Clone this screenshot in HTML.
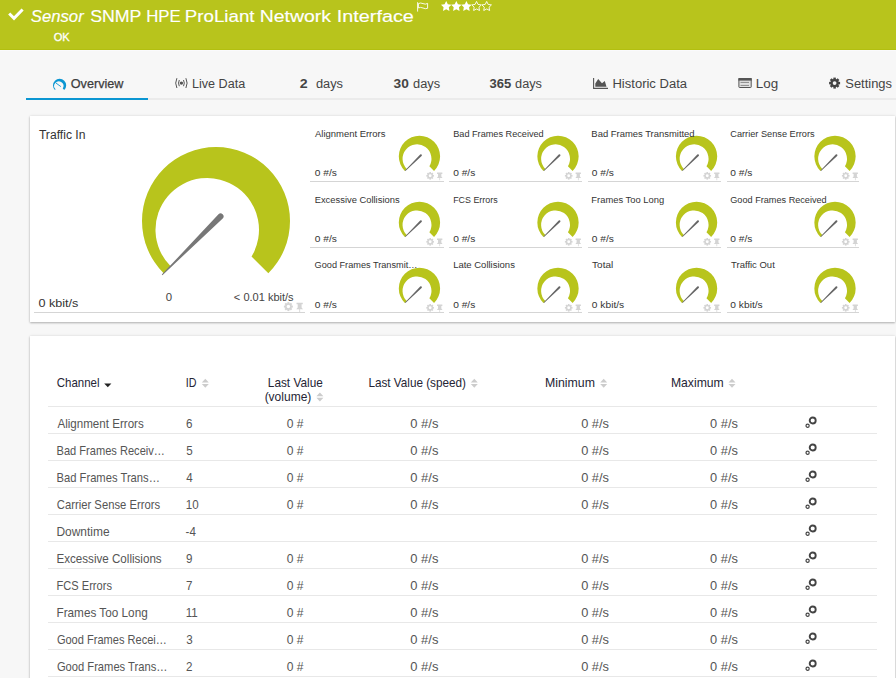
<!DOCTYPE html>
<html><head><meta charset="utf-8"><title>Sensor SNMP HPE ProLiant Network Interface</title>
<style>
html,body{margin:0;padding:0;}
body{width:896px;height:678px;overflow:hidden;background:#f7f7f7;position:relative;font-family:"Liberation Sans",sans-serif;}
.a{position:absolute;display:block;}
.card{background:#fff;box-shadow:0 1px 2px rgba(0,0,0,0.26),0 0 3px rgba(0,0,0,0.1);}
</style></head><body>
<div class="a " style="left:0px;top:0px;width:896px;height:49px;background:#b8c41c"></div>
<div class="a " style="left:0px;top:49px;width:896px;height:1px;background:#b2bf10"></div>
<div class="a " style="left:0px;top:50px;width:896px;height:1px;background:#fafafc"></div>
<div class="a " style="left:26px;top:98px;width:870px;height:2px;background:#ebebeb"></div>
<div class="a " style="left:26px;top:98px;width:122px;height:2px;background:#0b96d2"></div>
<div class="a card" style="left:30px;top:116px;width:865px;height:206px"></div>
<div class="a " style="left:34px;top:312px;width:271px;height:1px;background:#d5d5d5"></div>
<div class="a " style="left:310px;top:181px;width:133.6px;height:1px;background:#d5d5d5"></div>
<div class="a " style="left:449px;top:181px;width:132.7px;height:1px;background:#d5d5d5"></div>
<div class="a " style="left:588px;top:181px;width:132.7px;height:1px;background:#d5d5d5"></div>
<div class="a " style="left:726.5px;top:181px;width:132.5px;height:1px;background:#d5d5d5"></div>
<div class="a " style="left:310px;top:247px;width:133.6px;height:1px;background:#d5d5d5"></div>
<div class="a " style="left:449px;top:247px;width:132.7px;height:1px;background:#d5d5d5"></div>
<div class="a " style="left:588px;top:247px;width:132.7px;height:1px;background:#d5d5d5"></div>
<div class="a " style="left:726.5px;top:247px;width:132.5px;height:1px;background:#d5d5d5"></div>
<div class="a " style="left:310px;top:312px;width:133.6px;height:1px;background:#d5d5d5"></div>
<div class="a " style="left:449px;top:312px;width:132.7px;height:1px;background:#d5d5d5"></div>
<div class="a " style="left:588px;top:312px;width:132.7px;height:1px;background:#d5d5d5"></div>
<div class="a " style="left:726.5px;top:312px;width:132.5px;height:1px;background:#d5d5d5"></div>
<div class="a card" style="left:30px;top:336px;width:865px;height:360px"></div>
<div class="a " style="left:48px;top:406px;width:829px;height:1px;background:#e8e8e8"></div>
<div class="a " style="left:48px;top:433px;width:829px;height:1px;background:#e8e8e8"></div>
<div class="a " style="left:48px;top:460px;width:829px;height:1px;background:#e8e8e8"></div>
<div class="a " style="left:48px;top:487px;width:829px;height:1px;background:#e8e8e8"></div>
<div class="a " style="left:48px;top:514px;width:829px;height:1px;background:#e8e8e8"></div>
<div class="a " style="left:48px;top:541px;width:829px;height:1px;background:#e8e8e8"></div>
<div class="a " style="left:48px;top:568px;width:829px;height:1px;background:#e8e8e8"></div>
<div class="a " style="left:48px;top:595px;width:829px;height:1px;background:#e8e8e8"></div>
<div class="a " style="left:48px;top:622px;width:829px;height:1px;background:#e8e8e8"></div>
<div class="a " style="left:48px;top:649px;width:829px;height:1px;background:#e8e8e8"></div>
<div class="a " style="left:48px;top:676px;width:829px;height:1px;background:#e8e8e8"></div>
<svg class="a" style="left:0;top:0" width="896" height="678" viewBox="0 0 896 678" font-family="Liberation Sans, sans-serif">
<path d="M9.2,13.5 L14,18.3 L22.6,9.5" stroke="#fff" stroke-width="3" fill="none"/>
<path d="M417.6,2.2 V11.6" stroke="#fff" stroke-width="0.9"/><path d="M418.4,3.6 Q420.5,2.4 423,3.6 T427.6,3.4 V8.3 Q425.5,9.2 423,8 T418.4,7.9 Z" stroke="#fff" stroke-width="0.9" fill="none"/>
<polygon points="446.20,0.95 447.82,4.23 451.43,4.75 448.82,7.30 449.43,10.90 446.20,9.20 442.97,10.90 443.58,7.30 440.97,4.75 444.58,4.23" fill="#fff"/><polygon points="456.32,0.95 457.94,4.23 461.55,4.75 458.94,7.30 459.55,10.90 456.32,9.20 453.09,10.90 453.70,7.30 451.09,4.75 454.70,4.23" fill="#fff"/><polygon points="466.44,0.95 468.06,4.23 471.67,4.75 469.06,7.30 469.67,10.90 466.44,9.20 463.21,10.90 463.82,7.30 461.21,4.75 464.82,4.23" fill="#fff"/><polygon points="476.56,1.45 478.03,4.43 481.32,4.90 478.94,7.22 479.50,10.50 476.56,8.95 473.62,10.50 474.18,7.22 471.80,4.90 475.09,4.43" fill="none" stroke="#fff" stroke-width="0.9"/><polygon points="486.68,1.45 488.15,4.43 491.44,4.90 489.06,7.22 489.62,10.50 486.68,8.95 483.74,10.50 484.30,7.22 481.92,4.90 485.21,4.43" fill="none" stroke="#fff" stroke-width="0.9"/>
<g transform="translate(59.6,85.3) scale(0.0892)"><path d="M-52.33,52.33 A74,74 0 1 1 52.33,52.33 L35.53,35.53 A51.75,51.75 0 1 0 -45.34,45.34 Z" fill="#0b96d2"/></g><path d="M56.2,83.2 L60.6,86.4" stroke="#0b96d2" stroke-width="0.9" stroke-linecap="round"/>
<circle cx="181.4" cy="83.1" r="1.7" fill="#555"/><path d="M179.3,80 Q177.7,83.1 179.3,86.2 M183.5,80 Q185.1,83.1 183.5,86.2 M176.9,78.2 Q174.5,83.1 176.9,88 M185.9,78.2 Q188.3,83.1 185.9,88" stroke="#555" stroke-width="1" fill="none"/>
<path d="M593.6,78 V88.4 H608" stroke="#555" stroke-width="1.1" fill="none"/><path d="M595.3,86.7 L595.3,83.4 L598.2,79.1 L602,83.2 L604.8,81.1 L606.5,86.7 Z" fill="#555"/>
<rect x="738.9" y="78.5" width="12.3" height="9" rx="0.6" fill="#e2e2e2" stroke="#555" stroke-width="1"/><rect x="738.4" y="78" width="13.3" height="2.6" fill="#555"/><path d="M740.5,82.4 H749 M740.5,85.4 H749" stroke="#8a8a8a" stroke-width="1"/>
<g transform="translate(834.6,83.1)"><g fill="#444"><circle r="4.1"/><rect x="-1.25" y="-5.5" width="2.5" height="11" transform="rotate(0)"/><rect x="-1.25" y="-5.5" width="2.5" height="11" transform="rotate(45)"/><rect x="-1.25" y="-5.5" width="2.5" height="11" transform="rotate(90)"/><rect x="-1.25" y="-5.5" width="2.5" height="11" transform="rotate(135)"/></g><circle r="1.9" fill="#f7f7f7"/></g>
<g transform="translate(216,221)"><path d="M-52.33,52.33 A74,74 0 1 1 52.33,52.33 L35.53,35.53 A51.75,51.75 0 1 0 -45.34,45.34 Z" fill="#b8c41c"/><path d="M6.72,-2.48 L-53.6,54.2 L-54.2,53.6 L2.48,-6.72 A3,3 0 0 1 6.72,-2.48 Z" fill="#777"/></g>
<g transform="translate(283.90,302.10) scale(1.18)"><g transform="translate(3.8,3.8)" fill="#d4d4d4"><circle r="2.8"/><rect x="-0.85" y="-3.8" width="1.7" height="7.6" transform="rotate(0)"/><rect x="-0.85" y="-3.8" width="1.7" height="7.6" transform="rotate(45)"/><rect x="-0.85" y="-3.8" width="1.7" height="7.6" transform="rotate(90)"/><rect x="-0.85" y="-3.8" width="1.7" height="7.6" transform="rotate(135)"/><circle r="1.45" fill="#fff"/></g><path d="M10.7,0.6 H16.0 V1.9 H15.0 V4.6 L16.2,6.1 H10.5 L11.7,4.6 V1.9 H10.7 Z M13.05,6.1 H13.75 V8.3 H13.05 Z" fill="#d4d4d4"/></g>
<g transform="translate(419.45,156.35) scale(0.2791)"><path d="M-52.33,52.33 A74,74 0 1 1 52.33,52.33 L35.53,35.53 A51.75,51.75 0 1 0 -45.34,45.34 Z" fill="#b8c41c"/><path d="M-51.84,50.65 L2.67,-6.76 A3.6,3.6 0 0 1 7.73,-1.64 L-50.16,52.35 Z" fill="#666"/></g>
<g transform="translate(426.35,172.00) scale(1.0)"><g transform="translate(3.8,3.8)" fill="#d4d4d4"><circle r="2.8"/><rect x="-0.85" y="-3.8" width="1.7" height="7.6" transform="rotate(0)"/><rect x="-0.85" y="-3.8" width="1.7" height="7.6" transform="rotate(45)"/><rect x="-0.85" y="-3.8" width="1.7" height="7.6" transform="rotate(90)"/><rect x="-0.85" y="-3.8" width="1.7" height="7.6" transform="rotate(135)"/><circle r="1.45" fill="#fff"/></g><path d="M10.7,0.6 H16.0 V1.9 H15.0 V4.6 L16.2,6.1 H10.5 L11.7,4.6 V1.9 H10.7 Z M13.05,6.1 H13.75 V8.3 H13.05 Z" fill="#d4d4d4"/></g>
<g transform="translate(558.00,156.35) scale(0.2791)"><path d="M-52.33,52.33 A74,74 0 1 1 52.33,52.33 L35.53,35.53 A51.75,51.75 0 1 0 -45.34,45.34 Z" fill="#b8c41c"/><path d="M-51.84,50.65 L2.67,-6.76 A3.6,3.6 0 0 1 7.73,-1.64 L-50.16,52.35 Z" fill="#666"/></g>
<g transform="translate(564.90,172.00) scale(1.0)"><g transform="translate(3.8,3.8)" fill="#d4d4d4"><circle r="2.8"/><rect x="-0.85" y="-3.8" width="1.7" height="7.6" transform="rotate(0)"/><rect x="-0.85" y="-3.8" width="1.7" height="7.6" transform="rotate(45)"/><rect x="-0.85" y="-3.8" width="1.7" height="7.6" transform="rotate(90)"/><rect x="-0.85" y="-3.8" width="1.7" height="7.6" transform="rotate(135)"/><circle r="1.45" fill="#fff"/></g><path d="M10.7,0.6 H16.0 V1.9 H15.0 V4.6 L16.2,6.1 H10.5 L11.7,4.6 V1.9 H10.7 Z M13.05,6.1 H13.75 V8.3 H13.05 Z" fill="#d4d4d4"/></g>
<g transform="translate(696.55,156.35) scale(0.2791)"><path d="M-52.33,52.33 A74,74 0 1 1 52.33,52.33 L35.53,35.53 A51.75,51.75 0 1 0 -45.34,45.34 Z" fill="#b8c41c"/><path d="M-51.84,50.65 L2.67,-6.76 A3.6,3.6 0 0 1 7.73,-1.64 L-50.16,52.35 Z" fill="#666"/></g>
<g transform="translate(703.45,172.00) scale(1.0)"><g transform="translate(3.8,3.8)" fill="#d4d4d4"><circle r="2.8"/><rect x="-0.85" y="-3.8" width="1.7" height="7.6" transform="rotate(0)"/><rect x="-0.85" y="-3.8" width="1.7" height="7.6" transform="rotate(45)"/><rect x="-0.85" y="-3.8" width="1.7" height="7.6" transform="rotate(90)"/><rect x="-0.85" y="-3.8" width="1.7" height="7.6" transform="rotate(135)"/><circle r="1.45" fill="#fff"/></g><path d="M10.7,0.6 H16.0 V1.9 H15.0 V4.6 L16.2,6.1 H10.5 L11.7,4.6 V1.9 H10.7 Z M13.05,6.1 H13.75 V8.3 H13.05 Z" fill="#d4d4d4"/></g>
<g transform="translate(835.00,156.35) scale(0.2791)"><path d="M-52.33,52.33 A74,74 0 1 1 52.33,52.33 L35.53,35.53 A51.75,51.75 0 1 0 -45.34,45.34 Z" fill="#b8c41c"/><path d="M-51.84,50.65 L2.67,-6.76 A3.6,3.6 0 0 1 7.73,-1.64 L-50.16,52.35 Z" fill="#666"/></g>
<g transform="translate(841.90,172.00) scale(1.0)"><g transform="translate(3.8,3.8)" fill="#d4d4d4"><circle r="2.8"/><rect x="-0.85" y="-3.8" width="1.7" height="7.6" transform="rotate(0)"/><rect x="-0.85" y="-3.8" width="1.7" height="7.6" transform="rotate(45)"/><rect x="-0.85" y="-3.8" width="1.7" height="7.6" transform="rotate(90)"/><rect x="-0.85" y="-3.8" width="1.7" height="7.6" transform="rotate(135)"/><circle r="1.45" fill="#fff"/></g><path d="M10.7,0.6 H16.0 V1.9 H15.0 V4.6 L16.2,6.1 H10.5 L11.7,4.6 V1.9 H10.7 Z M13.05,6.1 H13.75 V8.3 H13.05 Z" fill="#d4d4d4"/></g>
<g transform="translate(419.45,222.40) scale(0.2791)"><path d="M-52.33,52.33 A74,74 0 1 1 52.33,52.33 L35.53,35.53 A51.75,51.75 0 1 0 -45.34,45.34 Z" fill="#b8c41c"/><path d="M-51.84,50.65 L2.67,-6.76 A3.6,3.6 0 0 1 7.73,-1.64 L-50.16,52.35 Z" fill="#666"/></g>
<g transform="translate(426.35,238.00) scale(1.0)"><g transform="translate(3.8,3.8)" fill="#d4d4d4"><circle r="2.8"/><rect x="-0.85" y="-3.8" width="1.7" height="7.6" transform="rotate(0)"/><rect x="-0.85" y="-3.8" width="1.7" height="7.6" transform="rotate(45)"/><rect x="-0.85" y="-3.8" width="1.7" height="7.6" transform="rotate(90)"/><rect x="-0.85" y="-3.8" width="1.7" height="7.6" transform="rotate(135)"/><circle r="1.45" fill="#fff"/></g><path d="M10.7,0.6 H16.0 V1.9 H15.0 V4.6 L16.2,6.1 H10.5 L11.7,4.6 V1.9 H10.7 Z M13.05,6.1 H13.75 V8.3 H13.05 Z" fill="#d4d4d4"/></g>
<g transform="translate(558.00,222.40) scale(0.2791)"><path d="M-52.33,52.33 A74,74 0 1 1 52.33,52.33 L35.53,35.53 A51.75,51.75 0 1 0 -45.34,45.34 Z" fill="#b8c41c"/><path d="M-51.84,50.65 L2.67,-6.76 A3.6,3.6 0 0 1 7.73,-1.64 L-50.16,52.35 Z" fill="#666"/></g>
<g transform="translate(564.90,238.00) scale(1.0)"><g transform="translate(3.8,3.8)" fill="#d4d4d4"><circle r="2.8"/><rect x="-0.85" y="-3.8" width="1.7" height="7.6" transform="rotate(0)"/><rect x="-0.85" y="-3.8" width="1.7" height="7.6" transform="rotate(45)"/><rect x="-0.85" y="-3.8" width="1.7" height="7.6" transform="rotate(90)"/><rect x="-0.85" y="-3.8" width="1.7" height="7.6" transform="rotate(135)"/><circle r="1.45" fill="#fff"/></g><path d="M10.7,0.6 H16.0 V1.9 H15.0 V4.6 L16.2,6.1 H10.5 L11.7,4.6 V1.9 H10.7 Z M13.05,6.1 H13.75 V8.3 H13.05 Z" fill="#d4d4d4"/></g>
<g transform="translate(696.55,222.40) scale(0.2791)"><path d="M-52.33,52.33 A74,74 0 1 1 52.33,52.33 L35.53,35.53 A51.75,51.75 0 1 0 -45.34,45.34 Z" fill="#b8c41c"/><path d="M-51.84,50.65 L2.67,-6.76 A3.6,3.6 0 0 1 7.73,-1.64 L-50.16,52.35 Z" fill="#666"/></g>
<g transform="translate(703.45,238.00) scale(1.0)"><g transform="translate(3.8,3.8)" fill="#d4d4d4"><circle r="2.8"/><rect x="-0.85" y="-3.8" width="1.7" height="7.6" transform="rotate(0)"/><rect x="-0.85" y="-3.8" width="1.7" height="7.6" transform="rotate(45)"/><rect x="-0.85" y="-3.8" width="1.7" height="7.6" transform="rotate(90)"/><rect x="-0.85" y="-3.8" width="1.7" height="7.6" transform="rotate(135)"/><circle r="1.45" fill="#fff"/></g><path d="M10.7,0.6 H16.0 V1.9 H15.0 V4.6 L16.2,6.1 H10.5 L11.7,4.6 V1.9 H10.7 Z M13.05,6.1 H13.75 V8.3 H13.05 Z" fill="#d4d4d4"/></g>
<g transform="translate(835.00,222.40) scale(0.2791)"><path d="M-52.33,52.33 A74,74 0 1 1 52.33,52.33 L35.53,35.53 A51.75,51.75 0 1 0 -45.34,45.34 Z" fill="#b8c41c"/><path d="M-51.84,50.65 L2.67,-6.76 A3.6,3.6 0 0 1 7.73,-1.64 L-50.16,52.35 Z" fill="#666"/></g>
<g transform="translate(841.90,238.00) scale(1.0)"><g transform="translate(3.8,3.8)" fill="#d4d4d4"><circle r="2.8"/><rect x="-0.85" y="-3.8" width="1.7" height="7.6" transform="rotate(0)"/><rect x="-0.85" y="-3.8" width="1.7" height="7.6" transform="rotate(45)"/><rect x="-0.85" y="-3.8" width="1.7" height="7.6" transform="rotate(90)"/><rect x="-0.85" y="-3.8" width="1.7" height="7.6" transform="rotate(135)"/><circle r="1.45" fill="#fff"/></g><path d="M10.7,0.6 H16.0 V1.9 H15.0 V4.6 L16.2,6.1 H10.5 L11.7,4.6 V1.9 H10.7 Z M13.05,6.1 H13.75 V8.3 H13.05 Z" fill="#d4d4d4"/></g>
<g transform="translate(419.45,288.40) scale(0.2791)"><path d="M-52.33,52.33 A74,74 0 1 1 52.33,52.33 L35.53,35.53 A51.75,51.75 0 1 0 -45.34,45.34 Z" fill="#b8c41c"/><path d="M-51.84,50.65 L2.67,-6.76 A3.6,3.6 0 0 1 7.73,-1.64 L-50.16,52.35 Z" fill="#666"/></g>
<g transform="translate(426.35,304.00) scale(1.0)"><g transform="translate(3.8,3.8)" fill="#d4d4d4"><circle r="2.8"/><rect x="-0.85" y="-3.8" width="1.7" height="7.6" transform="rotate(0)"/><rect x="-0.85" y="-3.8" width="1.7" height="7.6" transform="rotate(45)"/><rect x="-0.85" y="-3.8" width="1.7" height="7.6" transform="rotate(90)"/><rect x="-0.85" y="-3.8" width="1.7" height="7.6" transform="rotate(135)"/><circle r="1.45" fill="#fff"/></g><path d="M10.7,0.6 H16.0 V1.9 H15.0 V4.6 L16.2,6.1 H10.5 L11.7,4.6 V1.9 H10.7 Z M13.05,6.1 H13.75 V8.3 H13.05 Z" fill="#d4d4d4"/></g>
<g transform="translate(558.00,288.40) scale(0.2791)"><path d="M-52.33,52.33 A74,74 0 1 1 52.33,52.33 L35.53,35.53 A51.75,51.75 0 1 0 -45.34,45.34 Z" fill="#b8c41c"/><path d="M-51.84,50.65 L2.67,-6.76 A3.6,3.6 0 0 1 7.73,-1.64 L-50.16,52.35 Z" fill="#666"/></g>
<g transform="translate(564.90,304.00) scale(1.0)"><g transform="translate(3.8,3.8)" fill="#d4d4d4"><circle r="2.8"/><rect x="-0.85" y="-3.8" width="1.7" height="7.6" transform="rotate(0)"/><rect x="-0.85" y="-3.8" width="1.7" height="7.6" transform="rotate(45)"/><rect x="-0.85" y="-3.8" width="1.7" height="7.6" transform="rotate(90)"/><rect x="-0.85" y="-3.8" width="1.7" height="7.6" transform="rotate(135)"/><circle r="1.45" fill="#fff"/></g><path d="M10.7,0.6 H16.0 V1.9 H15.0 V4.6 L16.2,6.1 H10.5 L11.7,4.6 V1.9 H10.7 Z M13.05,6.1 H13.75 V8.3 H13.05 Z" fill="#d4d4d4"/></g>
<g transform="translate(696.55,288.40) scale(0.2791)"><path d="M-52.33,52.33 A74,74 0 1 1 52.33,52.33 L35.53,35.53 A51.75,51.75 0 1 0 -45.34,45.34 Z" fill="#b8c41c"/><path d="M-51.84,50.65 L2.67,-6.76 A3.6,3.6 0 0 1 7.73,-1.64 L-50.16,52.35 Z" fill="#666"/></g>
<g transform="translate(703.45,304.00) scale(1.0)"><g transform="translate(3.8,3.8)" fill="#d4d4d4"><circle r="2.8"/><rect x="-0.85" y="-3.8" width="1.7" height="7.6" transform="rotate(0)"/><rect x="-0.85" y="-3.8" width="1.7" height="7.6" transform="rotate(45)"/><rect x="-0.85" y="-3.8" width="1.7" height="7.6" transform="rotate(90)"/><rect x="-0.85" y="-3.8" width="1.7" height="7.6" transform="rotate(135)"/><circle r="1.45" fill="#fff"/></g><path d="M10.7,0.6 H16.0 V1.9 H15.0 V4.6 L16.2,6.1 H10.5 L11.7,4.6 V1.9 H10.7 Z M13.05,6.1 H13.75 V8.3 H13.05 Z" fill="#d4d4d4"/></g>
<g transform="translate(835.00,288.40) scale(0.2791)"><path d="M-52.33,52.33 A74,74 0 1 1 52.33,52.33 L35.53,35.53 A51.75,51.75 0 1 0 -45.34,45.34 Z" fill="#b8c41c"/><path d="M-51.84,50.65 L2.67,-6.76 A3.6,3.6 0 0 1 7.73,-1.64 L-50.16,52.35 Z" fill="#666"/></g>
<g transform="translate(841.90,304.00) scale(1.0)"><g transform="translate(3.8,3.8)" fill="#d4d4d4"><circle r="2.8"/><rect x="-0.85" y="-3.8" width="1.7" height="7.6" transform="rotate(0)"/><rect x="-0.85" y="-3.8" width="1.7" height="7.6" transform="rotate(45)"/><rect x="-0.85" y="-3.8" width="1.7" height="7.6" transform="rotate(90)"/><rect x="-0.85" y="-3.8" width="1.7" height="7.6" transform="rotate(135)"/><circle r="1.45" fill="#fff"/></g><path d="M10.7,0.6 H16.0 V1.9 H15.0 V4.6 L16.2,6.1 H10.5 L11.7,4.6 V1.9 H10.7 Z M13.05,6.1 H13.75 V8.3 H13.05 Z" fill="#d4d4d4"/></g>
<path d="M104.2,383.4 H111.4 L107.8,387.2 Z" fill="#222"/>
<path transform="translate(201.6,378.5)" d="M0.2,4 L3.7,0.3 L7.2,4 Z M0.2,5.5 H7.2 L3.7,9.2 Z" fill="#ccc"/>
<path transform="translate(316.2,392.3)" d="M0.2,4 L3.7,0.3 L7.2,4 Z M0.2,5.5 H7.2 L3.7,9.2 Z" fill="#ccc"/>
<path transform="translate(470.6,378.5)" d="M0.2,4 L3.7,0.3 L7.2,4 Z M0.2,5.5 H7.2 L3.7,9.2 Z" fill="#ccc"/>
<path transform="translate(600,378.5)" d="M0.2,4 L3.7,0.3 L7.2,4 Z M0.2,5.5 H7.2 L3.7,9.2 Z" fill="#ccc"/>
<path transform="translate(728.3,378.5)" d="M0.2,4 L3.7,0.3 L7.2,4 Z M0.2,5.5 H7.2 L3.7,9.2 Z" fill="#ccc"/>
<g transform="translate(805,417)"><circle cx="7.7" cy="3.5" r="3.0" fill="none" stroke="#444" stroke-width="1.9"/><circle cx="2.6" cy="8.8" r="1.6" fill="none" stroke="#444" stroke-width="1.2"/></g>
<g transform="translate(805,444)"><circle cx="7.7" cy="3.5" r="3.0" fill="none" stroke="#444" stroke-width="1.9"/><circle cx="2.6" cy="8.8" r="1.6" fill="none" stroke="#444" stroke-width="1.2"/></g>
<g transform="translate(805,471)"><circle cx="7.7" cy="3.5" r="3.0" fill="none" stroke="#444" stroke-width="1.9"/><circle cx="2.6" cy="8.8" r="1.6" fill="none" stroke="#444" stroke-width="1.2"/></g>
<g transform="translate(805,498)"><circle cx="7.7" cy="3.5" r="3.0" fill="none" stroke="#444" stroke-width="1.9"/><circle cx="2.6" cy="8.8" r="1.6" fill="none" stroke="#444" stroke-width="1.2"/></g>
<g transform="translate(805,525)"><circle cx="7.7" cy="3.5" r="3.0" fill="none" stroke="#444" stroke-width="1.9"/><circle cx="2.6" cy="8.8" r="1.6" fill="none" stroke="#444" stroke-width="1.2"/></g>
<g transform="translate(805,552)"><circle cx="7.7" cy="3.5" r="3.0" fill="none" stroke="#444" stroke-width="1.9"/><circle cx="2.6" cy="8.8" r="1.6" fill="none" stroke="#444" stroke-width="1.2"/></g>
<g transform="translate(805,579)"><circle cx="7.7" cy="3.5" r="3.0" fill="none" stroke="#444" stroke-width="1.9"/><circle cx="2.6" cy="8.8" r="1.6" fill="none" stroke="#444" stroke-width="1.2"/></g>
<g transform="translate(805,606)"><circle cx="7.7" cy="3.5" r="3.0" fill="none" stroke="#444" stroke-width="1.9"/><circle cx="2.6" cy="8.8" r="1.6" fill="none" stroke="#444" stroke-width="1.2"/></g>
<g transform="translate(805,633)"><circle cx="7.7" cy="3.5" r="3.0" fill="none" stroke="#444" stroke-width="1.9"/><circle cx="2.6" cy="8.8" r="1.6" fill="none" stroke="#444" stroke-width="1.2"/></g>
<g transform="translate(805,660)"><circle cx="7.7" cy="3.5" r="3.0" fill="none" stroke="#444" stroke-width="1.9"/><circle cx="2.6" cy="8.8" r="1.6" fill="none" stroke="#444" stroke-width="1.2"/></g>
<text x="30.74" y="22" font-size="16.6" fill="#fff" font-style="italic" textLength="52.96" lengthAdjust="spacingAndGlyphs" stroke="#fff" stroke-width="0.15">Sensor</text>
<text x="90.15" y="22" font-size="16.6" fill="#fff" textLength="51.30" lengthAdjust="spacingAndGlyphs" stroke="#fff" stroke-width="0.15">SNMP</text>
<text x="146.19" y="22" font-size="16.6" fill="#fff" textLength="34.52" lengthAdjust="spacingAndGlyphs" stroke="#fff" stroke-width="0.15">HPE</text>
<text x="184.79" y="22" font-size="16.6" fill="#fff" textLength="69.75" lengthAdjust="spacingAndGlyphs" stroke="#fff" stroke-width="0.15">ProLiant</text>
<text x="259.73" y="22" font-size="16.6" fill="#fff" textLength="71.37" lengthAdjust="spacingAndGlyphs" stroke="#fff" stroke-width="0.15">Network</text>
<text x="336.85" y="22" font-size="16.6" fill="#fff" textLength="77.05" lengthAdjust="spacingAndGlyphs" stroke="#fff" stroke-width="0.15">Interface</text>
<text x="53.68" y="41" font-size="11.2" fill="#fff" textLength="16.04" lengthAdjust="spacingAndGlyphs" stroke="#fff" stroke-width="0.3">OK</text>
<text x="70.81" y="88" font-size="12.5" fill="#3d3d3d" textLength="52.64" lengthAdjust="spacingAndGlyphs" stroke="#3d3d3d" stroke-width="0.25">Overview</text>
<text x="192.02" y="88" font-size="12.5" fill="#444" textLength="53.20" lengthAdjust="spacingAndGlyphs">Live Data</text>
<text x="299.76" y="88" font-size="12.5" fill="#444" font-weight="bold" textLength="7.90" lengthAdjust="spacingAndGlyphs">2</text>
<text x="315.90" y="88" font-size="12.5" fill="#444" textLength="27.10" lengthAdjust="spacingAndGlyphs">days</text>
<text x="393.59" y="88" font-size="12.5" fill="#444" font-weight="bold" textLength="15.27" lengthAdjust="spacingAndGlyphs">30</text>
<text x="413.10" y="88" font-size="12.5" fill="#444" textLength="27.10" lengthAdjust="spacingAndGlyphs">days</text>
<text x="489.60" y="88" font-size="12.5" fill="#444" font-weight="bold" textLength="21.73" lengthAdjust="spacingAndGlyphs">365</text>
<text x="515.10" y="88" font-size="12.5" fill="#444" textLength="26.90" lengthAdjust="spacingAndGlyphs">days</text>
<text x="612.48" y="88" font-size="12.5" fill="#444" textLength="74.53" lengthAdjust="spacingAndGlyphs">Historic Data</text>
<text x="755.85" y="88" font-size="12.5" fill="#444" textLength="22.40" lengthAdjust="spacingAndGlyphs">Log</text>
<text x="845.30" y="88" font-size="12.5" fill="#444" textLength="46.71" lengthAdjust="spacingAndGlyphs">Settings</text>
<text x="38.91" y="139" font-size="12" fill="#333" textLength="46.57" lengthAdjust="spacingAndGlyphs">Traffic In</text>
<text x="165.74" y="301" font-size="10.5" fill="#444" textLength="6.34" lengthAdjust="spacingAndGlyphs">0</text>
<text x="233.88" y="301" font-size="10.5" fill="#444" textLength="59.76" lengthAdjust="spacingAndGlyphs">&lt; 0.01 kbit/s</text>
<text x="38.41" y="307" font-size="11.8" fill="#333" textLength="39.99" lengthAdjust="spacingAndGlyphs">0 kbit/s</text>
<text x="315.00" y="137" font-size="9.6" fill="#343434" textLength="70.40" lengthAdjust="spacingAndGlyphs">Alignment Errors</text>
<text x="314.78" y="176" font-size="9.8" fill="#343434" textLength="22.10" lengthAdjust="spacingAndGlyphs">0 #/s</text>
<text x="453.19" y="137" font-size="9.6" fill="#343434" textLength="90.53" lengthAdjust="spacingAndGlyphs">Bad Frames Received</text>
<text x="453.18" y="176" font-size="9.8" fill="#343434" textLength="22.10" lengthAdjust="spacingAndGlyphs">0 #/s</text>
<text x="591.36" y="137" font-size="9.6" fill="#343434" textLength="103.26" lengthAdjust="spacingAndGlyphs">Bad Frames Transmitted</text>
<text x="591.88" y="176" font-size="9.8" fill="#343434" textLength="22.10" lengthAdjust="spacingAndGlyphs">0 #/s</text>
<text x="730.27" y="137" font-size="9.6" fill="#343434" textLength="84.32" lengthAdjust="spacingAndGlyphs">Carrier Sense Errors</text>
<text x="730.38" y="176" font-size="9.8" fill="#343434" textLength="22.10" lengthAdjust="spacingAndGlyphs">0 #/s</text>
<text x="314.67" y="203" font-size="9.6" fill="#343434" textLength="84.93" lengthAdjust="spacingAndGlyphs">Excessive Collisions</text>
<text x="314.78" y="242" font-size="9.8" fill="#343434" textLength="22.10" lengthAdjust="spacingAndGlyphs">0 #/s</text>
<text x="453.21" y="203" font-size="9.6" fill="#343434" textLength="44.37" lengthAdjust="spacingAndGlyphs">FCS Errors</text>
<text x="453.18" y="242" font-size="9.8" fill="#343434" textLength="22.10" lengthAdjust="spacingAndGlyphs">0 #/s</text>
<text x="591.37" y="203" font-size="9.6" fill="#343434" textLength="72.76" lengthAdjust="spacingAndGlyphs">Frames Too Long</text>
<text x="591.88" y="242" font-size="9.8" fill="#343434" textLength="22.10" lengthAdjust="spacingAndGlyphs">0 #/s</text>
<text x="730.27" y="203" font-size="9.6" fill="#343434" textLength="96.44" lengthAdjust="spacingAndGlyphs">Good Frames Received</text>
<text x="730.38" y="242" font-size="9.8" fill="#343434" textLength="22.10" lengthAdjust="spacingAndGlyphs">0 #/s</text>
<text x="314.57" y="268" font-size="9.6" fill="#343434" textLength="102.87" lengthAdjust="spacingAndGlyphs">Good Frames Transmit…</text>
<text x="314.78" y="308" font-size="9.8" fill="#343434" textLength="22.10" lengthAdjust="spacingAndGlyphs">0 #/s</text>
<text x="453.16" y="268" font-size="9.6" fill="#343434" textLength="61.74" lengthAdjust="spacingAndGlyphs">Late Collisions</text>
<text x="453.18" y="308" font-size="9.8" fill="#343434" textLength="22.10" lengthAdjust="spacingAndGlyphs">0 #/s</text>
<text x="592.14" y="268" font-size="9.6" fill="#343434" textLength="21.01" lengthAdjust="spacingAndGlyphs">Total</text>
<text x="591.88" y="308" font-size="9.8" fill="#343434" textLength="32.29" lengthAdjust="spacingAndGlyphs">0 kbit/s</text>
<text x="731.05" y="268" font-size="9.6" fill="#343434" textLength="43.72" lengthAdjust="spacingAndGlyphs">Traffic Out</text>
<text x="730.38" y="308" font-size="9.8" fill="#343434" textLength="32.29" lengthAdjust="spacingAndGlyphs">0 kbit/s</text>
<text x="56.76" y="387" font-size="12.2" fill="#252535" textLength="42.80" lengthAdjust="spacingAndGlyphs">Channel</text>
<text x="185.76" y="387" font-size="12.2" fill="#252535" textLength="10.71" lengthAdjust="spacingAndGlyphs">ID</text>
<text x="267.83" y="387" font-size="12.2" fill="#252535" textLength="54.95" lengthAdjust="spacingAndGlyphs">Last Value</text>
<text x="264.64" y="401" font-size="12.2" fill="#252535" textLength="46.68" lengthAdjust="spacingAndGlyphs">(volume)</text>
<text x="368.38" y="387" font-size="12.2" fill="#252535" textLength="97.62" lengthAdjust="spacingAndGlyphs">Last Value (speed)</text>
<text x="545.04" y="387" font-size="12.2" fill="#252535" textLength="49.90" lengthAdjust="spacingAndGlyphs">Minimum</text>
<text x="670.95" y="387" font-size="12.2" fill="#252535">Maximum</text>
<text x="57.40" y="428" font-size="12.2" fill="#555" textLength="86.36" lengthAdjust="spacingAndGlyphs">Alignment Errors</text>
<text x="185.96" y="428" font-size="12.2" fill="#555" textLength="6.45" lengthAdjust="spacingAndGlyphs">6</text>
<text x="286.72" y="428" font-size="12.2" fill="#555" textLength="16.80" lengthAdjust="spacingAndGlyphs">0 #</text>
<text x="410.29" y="428" font-size="12.2" fill="#555" textLength="28.11" lengthAdjust="spacingAndGlyphs">0 #/s</text>
<text x="581.20" y="428" font-size="12.2" fill="#555" textLength="27.80" lengthAdjust="spacingAndGlyphs">0 #/s</text>
<text x="710.10" y="428" font-size="12.2" fill="#555" textLength="27.80" lengthAdjust="spacingAndGlyphs">0 #/s</text>
<text x="56.53" y="455" font-size="12.2" fill="#555" textLength="108.35" lengthAdjust="spacingAndGlyphs">Bad Frames Receiv…</text>
<text x="186.14" y="455" font-size="12.2" fill="#555" textLength="6.45" lengthAdjust="spacingAndGlyphs">5</text>
<text x="286.72" y="455" font-size="12.2" fill="#555" textLength="16.80" lengthAdjust="spacingAndGlyphs">0 #</text>
<text x="410.29" y="455" font-size="12.2" fill="#555" textLength="28.11" lengthAdjust="spacingAndGlyphs">0 #/s</text>
<text x="581.20" y="455" font-size="12.2" fill="#555" textLength="27.80" lengthAdjust="spacingAndGlyphs">0 #/s</text>
<text x="710.10" y="455" font-size="12.2" fill="#555" textLength="27.80" lengthAdjust="spacingAndGlyphs">0 #/s</text>
<text x="56.53" y="482" font-size="12.2" fill="#555" textLength="103.37" lengthAdjust="spacingAndGlyphs">Bad Frames Trans…</text>
<text x="186.32" y="482" font-size="12.2" fill="#555" textLength="6.45" lengthAdjust="spacingAndGlyphs">4</text>
<text x="286.72" y="482" font-size="12.2" fill="#555" textLength="16.80" lengthAdjust="spacingAndGlyphs">0 #</text>
<text x="410.29" y="482" font-size="12.2" fill="#555" textLength="28.11" lengthAdjust="spacingAndGlyphs">0 #/s</text>
<text x="581.20" y="482" font-size="12.2" fill="#555" textLength="27.80" lengthAdjust="spacingAndGlyphs">0 #/s</text>
<text x="710.10" y="482" font-size="12.2" fill="#555" textLength="27.80" lengthAdjust="spacingAndGlyphs">0 #/s</text>
<text x="56.87" y="509" font-size="12.2" fill="#555" textLength="103.18" lengthAdjust="spacingAndGlyphs">Carrier Sense Errors</text>
<text x="185.78" y="509" font-size="12.2" fill="#555" textLength="12.89" lengthAdjust="spacingAndGlyphs">10</text>
<text x="286.72" y="509" font-size="12.2" fill="#555" textLength="16.80" lengthAdjust="spacingAndGlyphs">0 #</text>
<text x="410.29" y="509" font-size="12.2" fill="#555" textLength="28.11" lengthAdjust="spacingAndGlyphs">0 #/s</text>
<text x="581.20" y="509" font-size="12.2" fill="#555" textLength="27.80" lengthAdjust="spacingAndGlyphs">0 #/s</text>
<text x="710.10" y="509" font-size="12.2" fill="#555" textLength="27.80" lengthAdjust="spacingAndGlyphs">0 #/s</text>
<text x="56.47" y="536" font-size="12.2" fill="#555" textLength="53.12" lengthAdjust="spacingAndGlyphs">Downtime</text>
<text x="185.54" y="536" font-size="12.2" fill="#555" textLength="10.31" lengthAdjust="spacingAndGlyphs">-4</text>
<text x="56.49" y="563" font-size="12.2" fill="#555" textLength="105.17" lengthAdjust="spacingAndGlyphs">Excessive Collisions</text>
<text x="185.96" y="563" font-size="12.2" fill="#555" textLength="6.45" lengthAdjust="spacingAndGlyphs">9</text>
<text x="286.72" y="563" font-size="12.2" fill="#555" textLength="16.80" lengthAdjust="spacingAndGlyphs">0 #</text>
<text x="410.29" y="563" font-size="12.2" fill="#555" textLength="28.11" lengthAdjust="spacingAndGlyphs">0 #/s</text>
<text x="581.20" y="563" font-size="12.2" fill="#555" textLength="27.80" lengthAdjust="spacingAndGlyphs">0 #/s</text>
<text x="710.10" y="563" font-size="12.2" fill="#555" textLength="27.80" lengthAdjust="spacingAndGlyphs">0 #/s</text>
<text x="56.53" y="590" font-size="12.2" fill="#555" textLength="55.41" lengthAdjust="spacingAndGlyphs">FCS Errors</text>
<text x="185.96" y="590" font-size="12.2" fill="#555" textLength="6.45" lengthAdjust="spacingAndGlyphs">7</text>
<text x="286.72" y="590" font-size="12.2" fill="#555" textLength="16.80" lengthAdjust="spacingAndGlyphs">0 #</text>
<text x="410.29" y="590" font-size="12.2" fill="#555" textLength="28.11" lengthAdjust="spacingAndGlyphs">0 #/s</text>
<text x="581.20" y="590" font-size="12.2" fill="#555" textLength="27.80" lengthAdjust="spacingAndGlyphs">0 #/s</text>
<text x="710.10" y="590" font-size="12.2" fill="#555" textLength="27.80" lengthAdjust="spacingAndGlyphs">0 #/s</text>
<text x="56.48" y="617" font-size="12.2" fill="#555" textLength="91.27" lengthAdjust="spacingAndGlyphs">Frames Too Long</text>
<text x="185.78" y="617" font-size="12.2" fill="#555" textLength="12.03" lengthAdjust="spacingAndGlyphs">11</text>
<text x="286.72" y="617" font-size="12.2" fill="#555" textLength="16.80" lengthAdjust="spacingAndGlyphs">0 #</text>
<text x="410.29" y="617" font-size="12.2" fill="#555" textLength="28.11" lengthAdjust="spacingAndGlyphs">0 #/s</text>
<text x="581.20" y="617" font-size="12.2" fill="#555" textLength="27.80" lengthAdjust="spacingAndGlyphs">0 #/s</text>
<text x="710.10" y="617" font-size="12.2" fill="#555" textLength="27.80" lengthAdjust="spacingAndGlyphs">0 #/s</text>
<text x="56.88" y="644" font-size="12.2" fill="#555" textLength="110.00" lengthAdjust="spacingAndGlyphs">Good Frames Recei…</text>
<text x="186.14" y="644" font-size="12.2" fill="#555" textLength="6.45" lengthAdjust="spacingAndGlyphs">3</text>
<text x="286.72" y="644" font-size="12.2" fill="#555" textLength="16.80" lengthAdjust="spacingAndGlyphs">0 #</text>
<text x="410.29" y="644" font-size="12.2" fill="#555" textLength="28.11" lengthAdjust="spacingAndGlyphs">0 #/s</text>
<text x="581.20" y="644" font-size="12.2" fill="#555" textLength="27.80" lengthAdjust="spacingAndGlyphs">0 #/s</text>
<text x="710.10" y="644" font-size="12.2" fill="#555" textLength="27.80" lengthAdjust="spacingAndGlyphs">0 #/s</text>
<text x="56.88" y="671" font-size="12.2" fill="#555" textLength="110.52" lengthAdjust="spacingAndGlyphs">Good Frames Trans…</text>
<text x="185.96" y="671" font-size="12.2" fill="#555" textLength="6.45" lengthAdjust="spacingAndGlyphs">2</text>
<text x="286.72" y="671" font-size="12.2" fill="#555" textLength="16.80" lengthAdjust="spacingAndGlyphs">0 #</text>
<text x="410.29" y="671" font-size="12.2" fill="#555" textLength="28.11" lengthAdjust="spacingAndGlyphs">0 #/s</text>
<text x="581.20" y="671" font-size="12.2" fill="#555" textLength="27.80" lengthAdjust="spacingAndGlyphs">0 #/s</text>
<text x="710.10" y="671" font-size="12.2" fill="#555" textLength="27.80" lengthAdjust="spacingAndGlyphs">0 #/s</text>
</svg>
</body></html>
